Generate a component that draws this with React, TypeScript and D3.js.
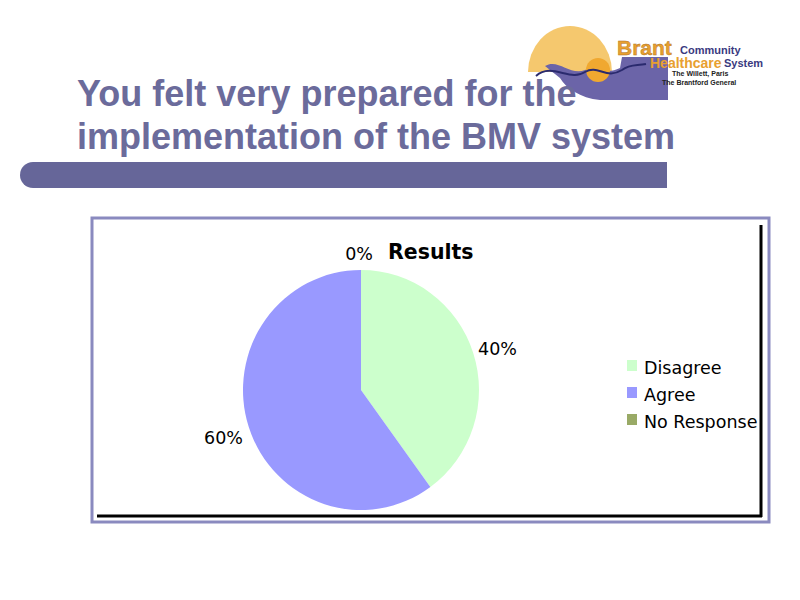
import React from "react";
import * as d3 from "d3";

const categories = ["Disagree", "Agree", "No Response"];
const values = [40, 60, 0];
const colors = ["#ccffcc", "#9999ff", "#99aa66"];
const pctLabels = ["40%", "60%", "0%"];
const titleLines = ["You felt very prepared for the", "implementation of the BMV system"];
const chartTitle = "Results";

export default function App() {
  const cx = 361, cy = 390, rx = 118, ry = 120;
  const pie = d3.pie<number>().value((d) => d).sort(null)(values);
  const arc = d3.arc<d3.PieArcDatum<number>>().innerRadius(0).outerRadius(ry);
  const labelPos: [number, number, string][] = [
    [478, 355, "start"],
    [243, 444, "end"],
    [373, 260, "end"],
  ];
  return (
    <svg width={800} height={600} style={{ position: "absolute", left: 0, top: 0 }}>
      <rect width={800} height={600} fill="#fff" />
      {/* logo */}
      <g>
        <path d="M528,72 A42,46 0 0 1 612,72 Z" fill="#f5c86e" />
        <path d="M545,66 C558,58 570,76 585,70 C598,64 604,76 620,68 L622,57 L668,57 L668,100 L600,100 C580,98 566,88 560,78 Z" fill="#6b64a8" />
        <circle cx={598} cy={70} r={12} fill="#f0a830" />
        <path d="M536,76 C552,62 570,82 585,72 C598,64 606,80 622,70 C630,64 636,66 646,64" fill="none" stroke="#2a2a6e" strokeWidth={2} />
        <text x={617} y={55} fontFamily="Liberation Sans, Arial" fontWeight="bold" fontSize={21} fill="#e8a030" stroke="#b07020" strokeWidth={0.4}>Brant</text>
        <text x={680} y={54} fontFamily="Liberation Sans, Arial" fontWeight="bold" fontSize={11} fill="#3a3a80">Community</text>
        <text x={650} y={68} fontFamily="Liberation Sans, Arial" fontWeight="bold" fontSize={14} fill="#e8a030">Healthcare</text>
        <text x={724} y={67} fontFamily="Liberation Sans, Arial" fontWeight="bold" fontSize={11} fill="#3a3a80">System</text>
        <text x={672} y={76} fontFamily="Liberation Sans, Arial" fontWeight="bold" fontSize={7} fill="#222">The Willett, Paris</text>
        <text x={662} y={85} fontFamily="Liberation Sans, Arial" fontWeight="bold" fontSize={7} fill="#222">The Brantford General</text>
      </g>
      {/* title */}
      {titleLines.map((t, i) => (
        <text key={i} x={77} y={106 + i * 43} fontFamily="Liberation Sans, Arial" fontWeight="bold" fontSize={36} fill="#6b6b9b">{t}</text>
      ))}
      <path d="M33,162 L667,162 L667,188 L33,188 A13,13 0 0 1 33,162 Z" fill="#666699" />
      {/* chart frame */}
      <rect x={92} y={218} width={677} height={304} fill="#fff" stroke="#8a8abf" strokeWidth={3} />
      <line x1={97} y1={516} x2={762} y2={516} stroke="#000" strokeWidth={3} />
      <line x1={761} y1={225} x2={761} y2={517} stroke="#000" strokeWidth={3} />
      <g transform={`translate(${cx},${cy}) scale(${rx / ry},1)`}>
        {pie.map((p, i) => (
          <path key={i} d={arc(p) || ""} fill={colors[i]} />
        ))}
      </g>
      {labelPos.map(([x, y, a], i) => (
        <text key={i} x={x} y={y} textAnchor={a as any} fontFamily="DejaVu Sans" fontSize={17.5} fill="#000">{pctLabels[i]}</text>
      ))}
      <text x={388} y={259} fontFamily="DejaVu Sans" fontWeight="bold" fontSize={20.5} fill="#000">{chartTitle}</text>
      {categories.map((c, i) => (
        <g key={i}>
          <rect x={627} y={360 + i * 27} width={10} height={11} fill={colors[i]} />
          <text x={644} y={374 + i * 27} fontFamily="DejaVu Sans" fontSize={17.5} fill="#000">{c}</text>
        </g>
      ))}
    </svg>
  );
}
